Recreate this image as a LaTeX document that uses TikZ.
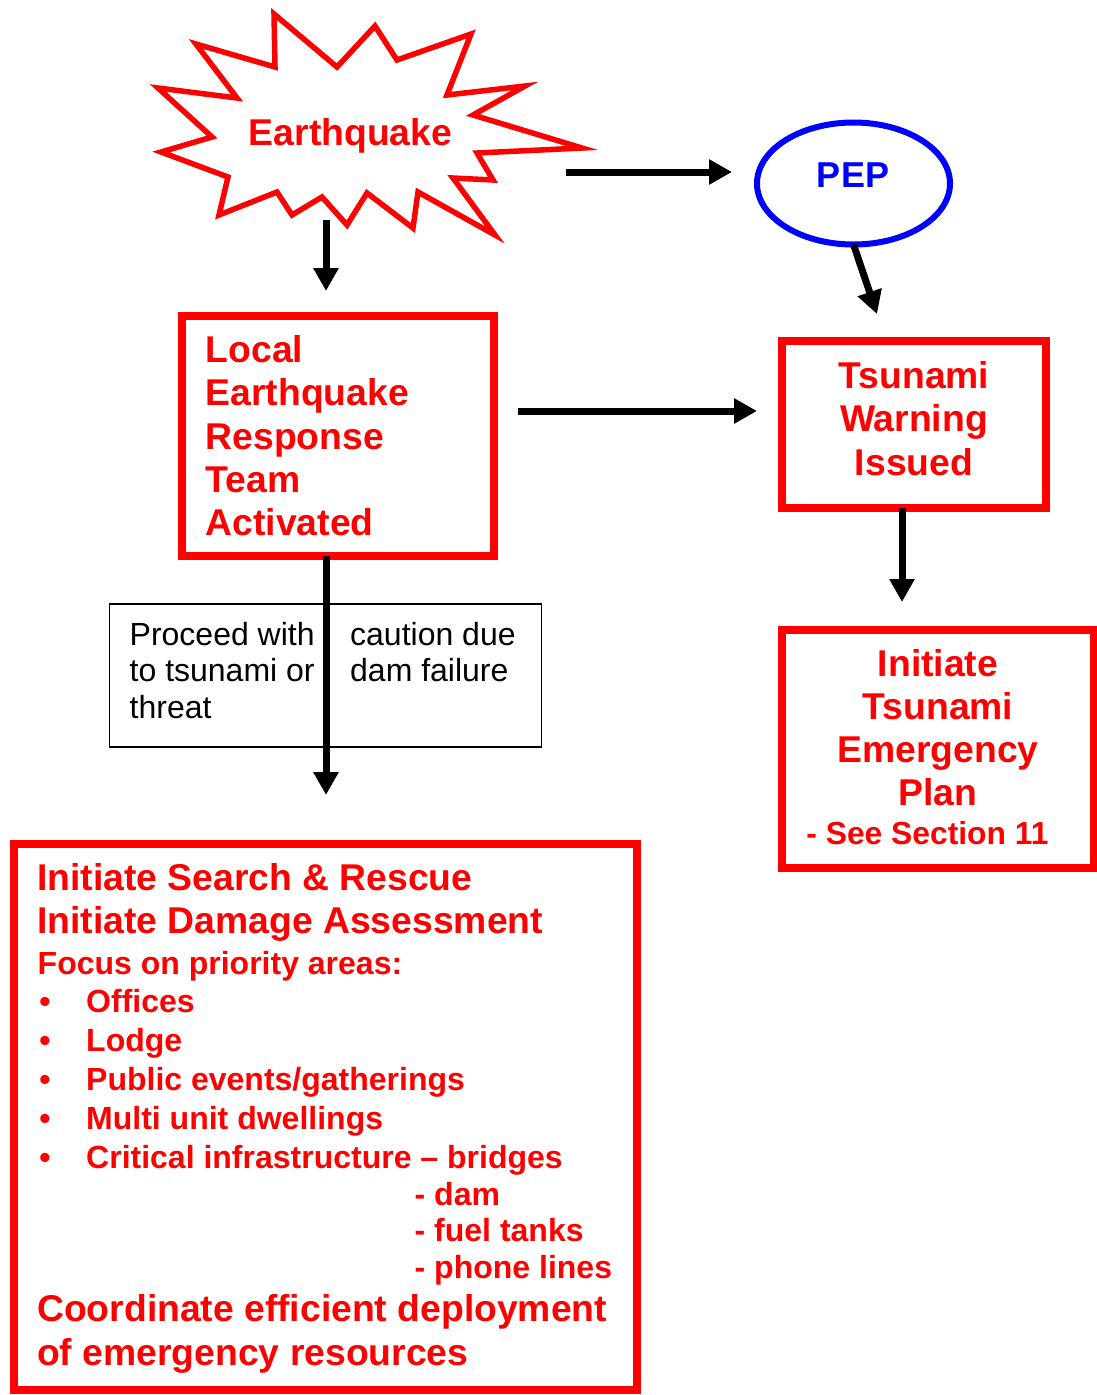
\documentclass[tikz,border=0pt]{standalone}
\usepackage{fontspec}
\setmainfont{Liberation Sans}
\usetikzlibrary{arrows.meta,shapes.geometric}
\definecolor{rd}{RGB}{255,0,0}
\definecolor{bl}{RGB}{0,0,255}
\begin{document}
\begin{tikzpicture}[x=1pt,y=-1pt,
  redbox/.style={draw=rd, line width=8pt, fill=white, inner sep=0pt, outer sep=0pt},
  arr/.style={line width=7pt, -{Triangle[length=23pt,width=24pt]}},
  bigtxt/.style={text=rd, font=\fontsize{37.3}{43}\selectfont\bfseries, inner sep=0pt},
  midtxt/.style={text=rd, font=\fontsize{32}{38}\selectfont\bfseries, inner sep=0pt},
  smalltxt/.style={text=rd, font=\fontsize{31.8}{36}\selectfont\bfseries, inner sep=0pt},
  plaintxt/.style={text=black, font=\fontsize{32}{37}\selectfont, inner sep=0pt},
]
\useasboundingbox (0,0) rectangle (1097,1395);

% Earthquake starburst
\draw[draw=rd, line width=5.5pt, fill=white, line join=miter]
  (274,14) -- (337,67) -- (375,26) -- (397,60) -- (471,34) -- (447,95) -- (525,86)
  -- (473,115) -- (582,148) -- (477,153) -- (493,180) -- (453,178) -- (495,235)
  -- (418,192) -- (413,228) -- (367,193) -- (347,225) -- (322,197) -- (292,215)
  -- (277,192) -- (219,215) -- (228,177) -- (161,152) -- (212,137) -- (158,88)
  -- (237,98) -- (196,44) -- (275,67) -- cycle;
\node[bigtxt, anchor=base] (quake) at (350.5,145) {Earthquake};

% PEP ellipse
\node[draw=bl, line width=6pt, ellipse, minimum width=193pt, minimum height=122pt,
      inner sep=0pt, outer sep=0pt] (pep) at (853.5,183.5) {};
\node[text=bl, font=\fontsize{36}{43}\selectfont\bfseries, inner sep=0pt, anchor=base] (peptxt) at (853,187) {PEP};

% Boxes
\node[redbox, minimum width=312pt, minimum height=240pt] (local) at (337.5,436) {};
\node[redbox, minimum width=264pt, minimum height=167pt] (tw) at (914,424) {};
\node[redbox, minimum width=312pt, minimum height=238pt] (init) at (937.5,748.5) {};
\node[redbox, minimum width=623pt, minimum height=546pt] (bottom) at (325.5,1117) {};
\node[draw=black, line width=1.5pt, fill=white, minimum width=432pt, minimum height=143pt,
      inner sep=0pt, outer sep=0pt] (note) at (325.5,675.7) {};

% Local box text
\node[bigtxt, anchor=base west] (l1) at (205.5,362.5) {Local};
\node[bigtxt, anchor=base west] (l2) at (205.5,405.8) {Earthquake};
\node[bigtxt, anchor=base west] (l3) at (205.5,449.1) {Response};
\node[bigtxt, anchor=base west] (l4) at (205.5,492.4) {Team};
\node[bigtxt, anchor=base west] (l5) at (205.5,535.7) {Activated};

% Tsunami warning text
\node[bigtxt, anchor=base] (w1) at (914,388) {Tsunami};
\node[bigtxt, anchor=base] (w2) at (914,431.5) {Warning};
\node[bigtxt, anchor=base] (w3) at (914,475) {Issued};

% Initiate plan text
\node[bigtxt, anchor=base] (i1) at (938,676) {Initiate};
\node[bigtxt, anchor=base] (i2) at (938,719) {Tsunami};
\node[bigtxt, anchor=base] (i3) at (938,762) {Emergency};
\node[bigtxt, anchor=base] (i4) at (938,805) {Plan};
\node[smalltxt, anchor=base] (i5) at (927.5,844) {- See Section 11};

% Note text
\node[plaintxt, anchor=base west] (n1) at (129.5,645) {Proceed with};
\node[plaintxt, anchor=base west] (n2) at (129.5,681.7) {to tsunami or};
\node[plaintxt, anchor=base west] (n3) at (129.5,718.3) {threat};
\node[plaintxt, anchor=base west] (n4) at (350,645) {caution due};
\node[plaintxt, anchor=base west] (n5) at (350,681.7) {dam failure};

% Bottom box text
\node[bigtxt, anchor=base west] (b1) at (37,890) {Initiate Search \& Rescue};
\node[bigtxt, anchor=base west] (b2) at (37,933.3) {Initiate Damage Assessment};
\node[midtxt, anchor=base west] (b3) at (37.5,974) {Focus on priority areas:};
\foreach \yy/\tt/\nm in {1012/Offices/o1, 1051/Lodge/o2, 1090/Public events\slash gatherings/o3,
                         1129/Multi unit dwellings/o4, 1168/Critical infrastructure – bridges/o5}{
  \node[midtxt, anchor=base] (\nm d) at (45,\yy) {•};
  \node[midtxt, anchor=base west] (\nm) at (86,\yy) {\tt};
}
\node[midtxt, anchor=base west] (s1) at (414.5,1205) {- dam};
\node[midtxt, anchor=base west] (s2) at (414.5,1241.5) {- fuel tanks};
\node[midtxt, anchor=base west] (s3) at (414.5,1278) {- phone lines};
\node[bigtxt, anchor=base west] (c1) at (37,1321) {Coordinate efficient deployment};
\node[bigtxt, anchor=base west] (c2) at (37,1365) {of emergency resources};

% Connectors
\coordinate (qS) at (326,220);
\coordinate (qE) at (566,172);
\coordinate (lr) at (518,411);
\coordinate (pepTip) at (877,314);
\draw[arr, shorten >=25pt] (qS) -- (qS |- local.north);
\draw[arr, shorten >=25pt] (qE) -- (qE -| pep.west);
\draw[arr] (pep.south) -- (pepTip);
\draw[arr, shorten >=25pt] (lr) -- (lr -| tw.west);
\draw[arr, shorten >=27.5pt] ([xshift=-12pt]tw.south) -- ([xshift=-12pt]tw.south |- init.north);
\draw[arr, shorten >=49pt] (local.south -| qS) -- (qS |- bottom.north);
\end{tikzpicture}
\end{document}
